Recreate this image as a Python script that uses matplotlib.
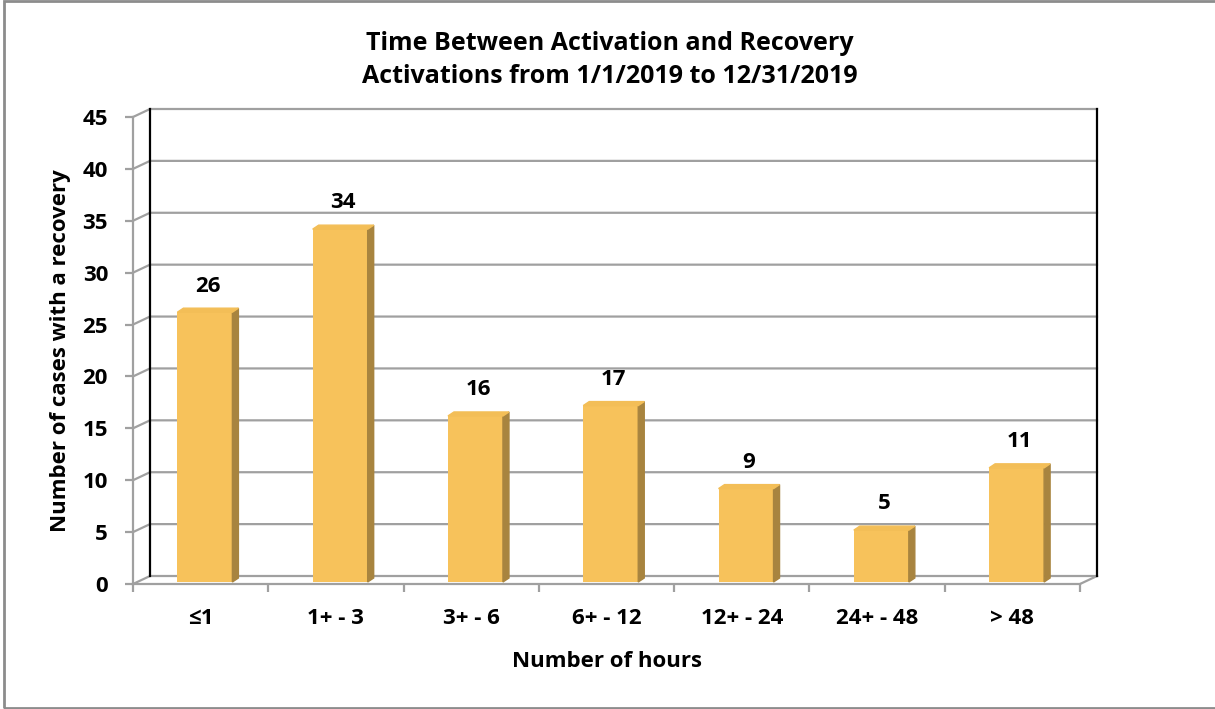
import matplotlib.pyplot as plt
from matplotlib.patches import Polygon, Rectangle

plt.rcParams["font.family"] = ["Open Sans", "DejaVu Sans"]
plt.rcParams["font.weight"] = "bold"

# data
categories = ["≤1", "1+ - 3", "3+ - 6", "6+ - 12", "12+ - 24", "24+ - 48", "> 48"]
cases = [26, 34, 16, 17, 9, 5, 11]
y_ticks = list(range(0, 50, 5))

title = "Time Between Activation and Recovery\nActivations from 1/1/2019 to 12/31/2019"
x_label = "Number of hours"
y_label = "Number of cases with a recovery"

FRONT = "#F7C25B"
SIDE = "#A8843F"
TOP = "#F3BE57"
GRID = "#A0A0A0"

W, H = 1215, 709
L, R, T, B = 133, 1080, 117, 584

fig = plt.figure(figsize=(W / 100, H / 100), dpi=100)
ax = fig.add_axes([L / W, 1 - B / H, (R - L) / W, (B - T) / H])
n = len(categories)
ax.set_xlim(-0.5, n - 0.5)
ax.set_ylim(0, 45)

# pixel -> data conversion
px_x = n / (R - L)
px_y = 45 / (B - T)
bdx, bdy = 17 * px_x, 8 * px_y      # back wall depth
fx, fy = 0.25 * bdx, 0.25 * bdy     # bar front plane
sdx, sdy = 6 * px_x, 4 * px_y       # bar depth
bw = 55 * px_x

# back wall gridlines with left diagonals
for v in y_ticks:
    ax.plot([-0.5, -0.5 + bdx, n - 0.5 + bdx], [v, v + bdy, v + bdy],
            color=GRID, lw=1.6, clip_on=False, zorder=1)
# floor right edge
ax.plot([n - 0.5, n - 0.5 + bdx], [0, bdy], color=GRID, lw=1.6, clip_on=False, zorder=1)
# back wall side edges
for xe in (-0.5 + bdx, n - 0.5 + bdx):
    ax.plot([xe, xe], [bdy, 45 + bdy], color="black", lw=1.6, clip_on=False, zorder=1)

# bars
xs = [i + fx for i in range(n)]
ax.bar(xs, cases, width=bw, bottom=fy, color=FRONT, zorder=3)
for x, v in zip(xs, cases):
    xl, xr = x - bw / 2, x + bw / 2
    yb, yt = fy, fy + v
    ax.add_patch(Polygon([(xr, yb), (xr + sdx, yb + sdy), (xr + sdx, yt + sdy), (xr, yt)],
                         closed=True, color=SIDE, zorder=3, clip_on=False))
    ax.add_patch(Polygon([(xl, yt), (xr, yt), (xr + sdx, yt + sdy), (xl + sdx, yt + sdy)],
                         closed=True, color=TOP, zorder=3, clip_on=False))
    ax.annotate(str(v), (x + sdx / 2, yt + sdy), xytext=(0, 12), textcoords="offset points",
                ha="center", va="baseline", fontsize=16, fontweight="bold")

# front axes
for s in ("top", "right"):
    ax.spines[s].set_visible(False)
for s in ("left", "bottom"):
    ax.spines[s].set_color(GRID)
    ax.spines[s].set_linewidth(1.6)
ax.patch.set_alpha(0)
ax.set_yticks(y_ticks)
ax.tick_params(axis="y", length=6, width=1.6, color=GRID, labelsize=16, pad=12)
ax.set_xticks(range(n))
ax.set_xticklabels(categories)
ax.set_xticks([i - 0.5 for i in range(n + 1)], minor=True)
ax.tick_params(axis="x", which="major", length=0, labelsize=16, pad=17)
ax.tick_params(axis="x", which="minor", length=6, width=1.6, color=GRID)
for lab in ax.get_xticklabels() + ax.get_yticklabels():
    lab.set_fontweight("bold")

ax.set_xlabel(x_label, fontsize=16, fontweight="bold", labelpad=16)
ax.set_ylabel(y_label, fontsize=16, fontweight="bold", labelpad=8)

fig.text(610 / W, 1 - 60 / H, title, ha="center", va="center", fontsize=18,
         fontweight="bold", linespacing=1.4)

fig.add_artist(Rectangle((4 / W, 1 / H), 1.0, 1 - 2 / H, transform=fig.transFigure,
                         fill=False, edgecolor="#8C8C8C", lw=2))

fig.savefig("out.png", dpi=100)
